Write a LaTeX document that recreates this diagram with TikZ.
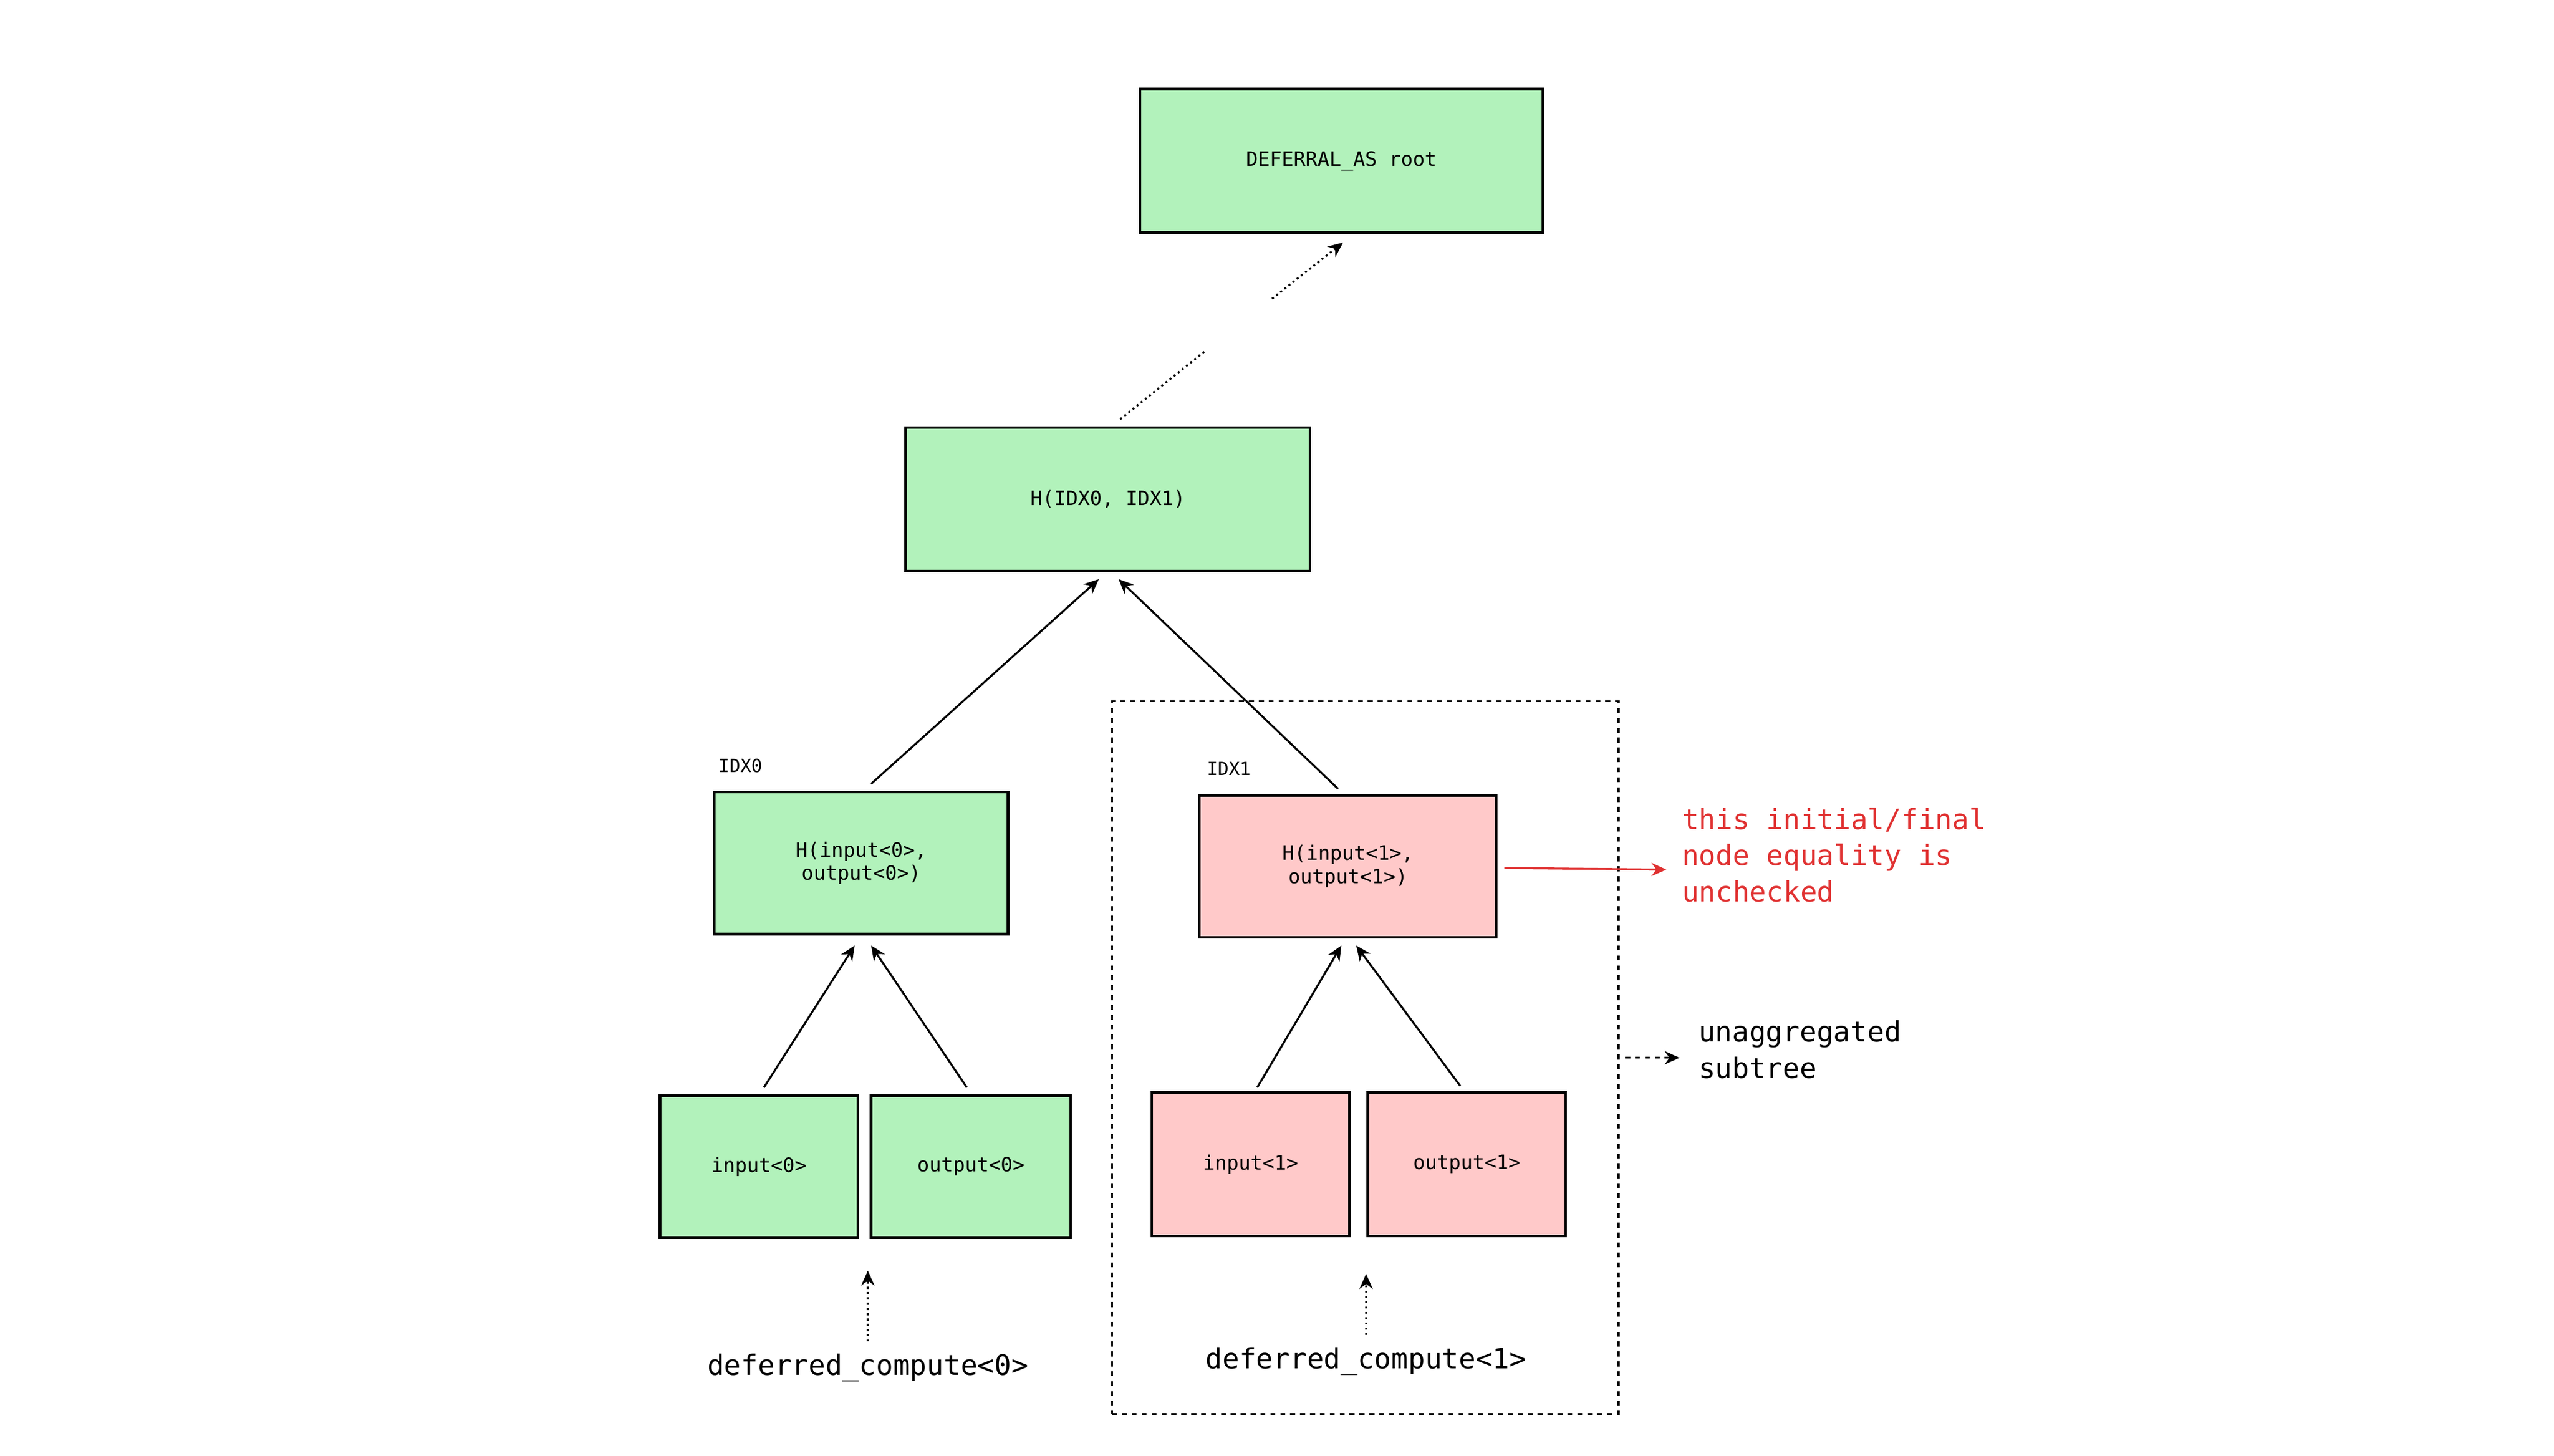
\documentclass[tikz,border=0pt]{standalone}
\usepackage{fontspec}
\setmonofont{DejaVu Sans Mono}
\usetikzlibrary{arrows.meta}
\definecolor{gfill}{HTML}{B2F2BB}
\definecolor{pfill}{HTML}{FFC9C9}
\definecolor{redt}{HTML}{E03131}
\tikzset{
  bx/.style={draw=black,line width=1.6pt,font=\ttfamily\fontsize{12}{14}\selectfont,align=center,inner sep=0pt},
  gbox/.style={bx,fill=gfill},
  pbox/.style={bx,fill=pfill},
  arr/.style={-{Stealth[length=9pt,width=8pt]},line width=1.2pt},
  lbl/.style={font=\ttfamily\fontsize{11}{13}\selectfont,anchor=west},
  big/.style={font=\ttfamily\fontsize{17}{22}\selectfont,align=left}
}
\begin{document}
\begin{tikzpicture}[x=1pt,y=-1pt]
\useasboundingbox (0,0) rectangle (1548,882);
\node[gbox,minimum width=244pt,minimum height=87pt] (root) at (813,97.5) {DEFERRAL\_AS root};
\node[gbox,minimum width=245pt,minimum height=87pt] (h) at (671.5,302.5) {H(IDX0, IDX1)};
\node[gbox,minimum width=178pt,minimum height=86pt] (i0) at (522,523) {H(input<0>,\\output<0>)};
\node[pbox,minimum width=180pt,minimum height=86pt] (i1) at (817,525) {H(input<1>,\\output<1>)};
\node[lbl] (l0) at (432,464) {IDX0};
\node[lbl] (l1) at (728,466) {IDX1};
\node[gbox,minimum width=120pt,minimum height=86pt] (in0) at (460,707) {input<0>};
\node[gbox,minimum width=121pt,minimum height=86pt] (out0) at (588.5,707) {output<0>};
\node[pbox,minimum width=120pt,minimum height=87pt] (in1) at (758,705.5) {input<1>};
\node[pbox,minimum width=120pt,minimum height=87pt] (out1) at (889,705.5) {output<1>};
\node[draw,dashed,line width=1.2pt,minimum width=307pt,minimum height=432pt,inner sep=0pt] (sub) at (827.5,641) {};
\node[big] (d0) at (526,829) {deferred\_compute<0>};
\node[big] (d1) at (828,825) {deferred\_compute<1>};
\node[big,text=redt,anchor=north west] (red) at (1016,486) {this initial/final\\node equality is\\unchecked};
\node[big,anchor=north west] (un) at (1026,615) {unaggregated\\subtree};
\coordinate (a1) at (463,659); \coordinate (a1e) at (518,573);
\coordinate (a2) at (586,659); \coordinate (a2e) at (528,573);
\coordinate (a3) at (528,475); \coordinate (a3e) at (666,351);
\coordinate (a4) at (811,478); \coordinate (a4e) at (678,351);
\coordinate (a5) at (762,659); \coordinate (a5e) at (813,573);
\coordinate (a6) at (885,658); \coordinate (a6e) at (822,573);
\draw[arr] (a1) -- (a1e);
\draw[arr] (a2) -- (a2e);
\draw[arr] (a3) -- (a3e);
\draw[arr] (a4) -- (a4e);
\draw[arr] (a5) -- (a5e);
\draw[arr] (a6) -- (a6e);
\coordinate (p1) at (679,254); \coordinate (p2) at (730,213);
\coordinate (p3) at (771,181); \coordinate (p4) at (814,147);
\draw[line width=1.2pt,dotted] (p1) -- (p2);
\draw[arr,dotted] (p3) -- (p4);
\draw[arr,dotted] (d0.north) ++(0,-4) coordinate (q0) (q0) -- (526,770);
\draw[arr,dotted] (d1.north) ++(0,-4) coordinate (q1) (q1) -- (828,772);
\draw[arr,redt] (i1.east) ++(4,1) coordinate (r0) (r0) -- (1010,527);
\draw[arr,dashed] (985,641) coordinate (u0) -- (1018,641);
\end{tikzpicture}
\end{document}
